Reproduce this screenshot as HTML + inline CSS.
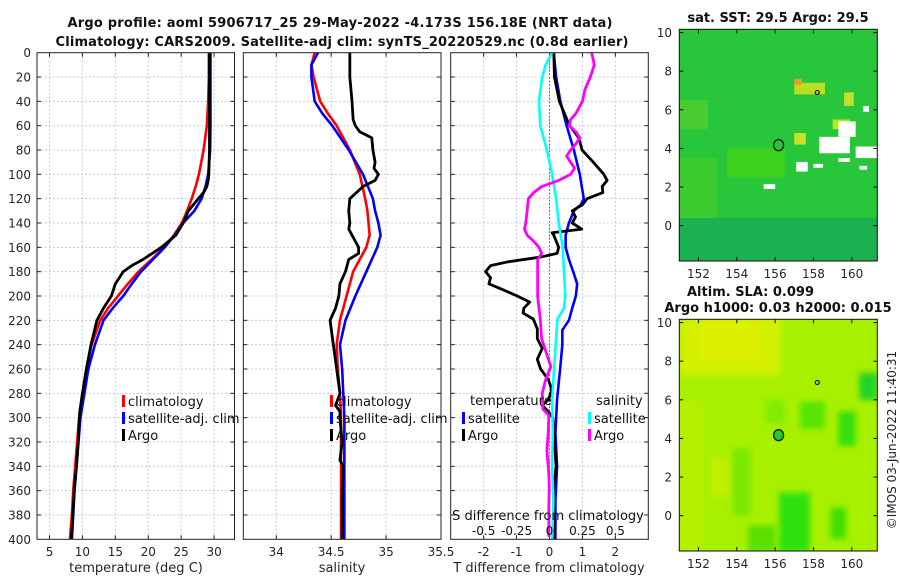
<!DOCTYPE html>
<html><head><meta charset="utf-8"><style>
html,body{margin:0;padding:0;background:#fff;}
svg{display:block;font-family:"DejaVu Sans","Liberation Sans",sans-serif;}
</style></head><body>
<svg id="chart" width="900" height="580" viewBox="0 0 900 580" xmlns="http://www.w3.org/2000/svg">
<rect width="900" height="580" fill="#fff"/>
<text x="340" y="27" text-anchor="middle" font-size="13" font-weight="bold" fill="#111" textLength="545">Argo profile: aoml 5906717_25 29-May-2022 -4.173S 156.18E (NRT data)</text>
<text x="342" y="46" text-anchor="middle" font-size="13" font-weight="bold" fill="#111" textLength="573">Climatology: CARS2009. Satellite-adj clim: synTS_20220529.nc (0.8d earlier)</text>
<text x="778" y="22" text-anchor="middle" font-size="13" font-weight="bold" fill="#111">sat. SST: 29.5 Argo: 29.5</text>
<text x="687" y="296" font-size="13" font-weight="bold" fill="#111">Altim. SLA: 0.099</text>
<text x="778" y="312" text-anchor="middle" font-size="13" font-weight="bold" fill="#111">Argo h1000: 0.03 h2000: 0.015</text>
<text transform="translate(896,440) rotate(-90)" text-anchor="middle" font-size="12" fill="#222">©IMOS 03-Jun-2022 11:40:31</text>
<g id="plots"></g>
</svg>
<script>
// ---- data ----
const depthTicks = [0,20,40,60,80,100,120,140,160,180,200,220,240,260,280,300,320,340,360,380,400];
const tempTicks = [5,10,15,20,25,30];
const salTicks = [34,34.5,35,35.5];
const salTickLabels = ["34","34.5","35","35.5"];
const tdiffTicks = [-2,-1,0,1,2];
const sdiffTicks = [-0.5,-0.25,0,0.25,0.5];
const sdiffTickLabels = ["-0.5","-0.25","0","0.25","0.5"];

const depthsT = [0,20,40,60,80,100,110,120,130,140,150,160,170,180,190,200,210,220,240,260,280,300,320,340,360,380,400];
const tempClim = [29.2,29.2,29.1,28.9,28.4,27.7,27.2,26.6,25.9,25.1,23.9,22.4,20.5,18.5,16.9,15.4,13.9,12.7,11.4,10.6,10.0,9.5,9.2,8.9,8.6,8.4,8.1];
const tempSat = [29.45,29.45,29.45,29.45,29.4,29.1,28.7,28.1,27.0,25.3,24.0,22.5,20.7,18.9,17.5,16.2,14.6,13.2,11.9,10.9,10.3,9.7,9.4,9.1,8.8,8.6,8.4];
const depthsArgoT = [0,20,40,60,80,100,105,110,115,120,130,140,150,160,170,175,180,190,200,210,220,240,260,280,295,320,340,360,380,400];
const tempArgo = [29.3,29.3,29.3,29.3,29.3,29.2,29.1,28.9,28.4,27.6,26.1,25.3,24.2,22.0,19.2,17.5,16.2,15.0,14.4,13.2,12.2,11.3,10.6,10.0,9.6,9.35,9.1,8.75,8.55,8.3];

const depthsS = [0,10,20,40,50,60,80,100,120,130,140,150,160,170,180,200,220,240,260,280,300,320,340,360,380,400];
const salClim = [34.35,34.32,34.34,34.40,34.47,34.55,34.67,34.76,34.81,34.83,34.84,34.85,34.82,34.76,34.70,34.64,34.58,34.55,34.56,34.58,34.59,34.59,34.59,34.59,34.59,34.59];
const salSat = [34.38,34.32,34.32,34.35,34.42,34.51,34.66,34.79,34.88,34.90,34.93,34.95,34.92,34.87,34.82,34.72,34.63,34.58,34.60,34.61,34.62,34.62,34.62,34.62,34.62,34.62];
const depthsArgoS = [0,20,40,55,60,65,70,80,90,95,100,105,110,120,130,140,145,150,160,165,170,180,190,200,210,220,240,260,280,290,295,300,320,335,340,360,380,400];
const salArgo = [34.67,34.67,34.69,34.70,34.72,34.76,34.87,34.88,34.90,34.89,34.93,34.90,34.79,34.67,34.66,34.67,34.66,34.69,34.75,34.75,34.66,34.63,34.58,34.57,34.54,34.49,34.52,34.55,34.58,34.54,34.58,34.58,34.60,34.58,34.61,34.60,34.60,34.60];

const depthsDTSat = [0,20,40,60,80,100,120,125,130,140,150,160,170,180,190,200,210,220,228,240,258,285,313,340,368,400];
const dTSat = [0.13,0.2,0.33,0.52,0.74,0.92,1.04,0.95,0.74,0.59,0.49,0.49,0.59,0.72,0.84,0.8,0.69,0.59,0.39,0.39,0.33,0.23,0.18,0.23,0.18,0.18];
const depthsDTArgo = [0,20,40,59,70,80,90,100,105,110,115,120,125,130,135,140,145,148,150,160,165,168,172,175,180,185,190,195,200,205,210,214,219,227,235,243,252,260,269,277,285,290,294,300,320,340,360,380,400];
const dTArgo = [0.13,0.15,0.3,0.59,0.89,0.99,1.33,1.65,1.75,1.6,1.62,1.14,1.0,0.69,0.79,0.69,0.98,0.08,0.13,0.28,0.23,-0.27,-1.28,-1.79,-1.94,-1.79,-1.84,-1.4,-0.98,-0.6,-0.78,-0.8,-0.49,-0.37,-0.37,-0.22,-0.37,-0.27,-0.03,0.07,-0.03,-0.22,-0.07,0.1,0.15,0.2,0.12,0.15,0.12];
const depthsDSSat = [0,10,20,40,60,80,100,120,140,160,180,200,210,219,243,285,313,340,368,400];
const dSSat = [0.02,-0.03,-0.055,-0.08,-0.07,-0.02,0.02,0.05,0.07,0.1,0.11,0.12,0.11,0.06,0.045,0.02,0.025,0.02,0.03,0.02];
const depthsDSArgo = [0,10,20,30,40,50,55,60,65,70,75,80,85,90,95,100,105,110,115,120,130,140,145,150,155,160,165,170,180,200,219,235,258,269,280,293,298,313,327,346,357,373,398];
const dSArgo = [0.32,0.34,0.31,0.27,0.25,0.2,0.16,0.15,0.2,0.23,0.2,0.16,0.13,0.16,0.19,0.16,0.07,-0.06,-0.12,-0.16,-0.17,-0.18,-0.19,-0.17,-0.12,-0.08,-0.06,-0.09,-0.09,-0.09,-0.07,-0.06,0.01,-0.03,-0.055,-0.05,-0.005,-0.01,-0.02,-0.005,-0.002,-0.005,-0.005];

const lonTicks = [152,154,156,158,160];
const latTicks = [0,2,4,6,8,10];
const argoLon = [156.18];
const argoLat = [4.17];

// ---- helpers ----
const NS = "http://www.w3.org/2000/svg";
const root = document.getElementById('plots');
function mk(tag, attrs, parent){const e=document.createElementNS(NS,tag);for(const k in attrs)e.setAttribute(k,attrs[k]);(parent||root).appendChild(e);return e;}
const Y0=52.7, Y1=539.3;
function yD(d){return Y0+(d/400)*(Y1-Y0);}
function lin(d0,d1,r0,r1){return v=>r0+(v-d0)/(d1-d0)*(r1-r0);}
const xT = lin(3.1,33.1,37,234.5);
const xS = lin(33.7,35.5,243.3,441);
const xDT = lin(-3,3,450.7,648.3);
const xDS = lin(-0.75,0.75,450.7,648.3);
const panels = [{x0:37,x1:234.5,xs:xT,ticks:tempTicks,labels:tempTicks.map(String),name:'temperature'},
                {x0:243.3,x1:441,xs:xS,ticks:salTicks,labels:salTickLabels,name:'salinity'},
                {x0:450.7,x1:648.3,xs:xDT,ticks:tdiffTicks,labels:tdiffTicks.map(String),name:'difference'}];

panels.forEach((p,i)=>{
  const g = mk('g',{});
  
  
  depthTicks.forEach(d=>{
    if(d===0||d===400) return;
    const l = mk('line',{x1:p.x0,x2:p.x1,y1:yD(d),y2:yD(d),stroke:'#c4c9e6','stroke-width':1,'stroke-dasharray':'2,2'},g);
    
    
    const t1 = mk('line',{x1:p.x0,x2:p.x0+4,y1:yD(d),y2:yD(d),stroke:'#222'},g);
    
    
    const t2 = mk('line',{x1:p.x1-4,x2:p.x1,y1:yD(d),y2:yD(d),stroke:'#222'},g);
    
    
  });
  p.ticks.forEach((v,k)=>{
    const x=p.xs(v);
    if(x>p.x0+1 && x<p.x1-1){
      const l = mk('line',{x1:x,x2:x,y1:Y0,y2:Y1,stroke:'#c4c9e6','stroke-width':1,'stroke-dasharray':'2,2'},g);
      
      
      const tb = mk('line',{x1:x,x2:x,y1:Y1-4,y2:Y1,stroke:'#222'},g);
      
      
      const tt = mk('line',{x1:x,x2:x,y1:Y0,y2:Y0+4,stroke:'#222'},g);
      
      
    }
    const lab = mk('text',{x:x,y:556,'text-anchor':'middle','font-size':12,fill:'#262626'},g);
    lab.textContent = p.labels[k];
    
    
  });
});
depthTicks.forEach(d=>{
  const t = mk('text',{x:31,y:yD(d)+4.5,'text-anchor':'end','font-size':12,fill:'#262626'});
  t.textContent = d;
  
  
});
const zl = mk('line',{x1:xDT(0),x2:xDT(0),y1:Y0,y2:Y1,stroke:'#556b2f','stroke-width':1,'stroke-dasharray':'1.5,2'});



function series(xs, vals, depths, color, w){
  const pts = vals.map((v,i)=>xs(v).toFixed(2)+','+yD(depths[i]).toFixed(2)).join(' ');
  return mk('polyline',{points:pts,fill:'none',stroke:color,'stroke-width':w,'stroke-linejoin':'round'});
}
let s;
s = series(xT,tempClim,depthsT,'#ff0000',2.6);


s = series(xT,tempSat,depthsT,'#0000ff',2.6);


s = series(xT,tempArgo,depthsArgoT,'#000000',2.8);


s = series(xS,salClim,depthsS,'#ff0000',2.6);


s = series(xS,salSat,depthsS,'#0000ff',2.6);


s = series(xS,salArgo,depthsArgoS,'#000000',2.8);


s = series(xDT,dTSat,depthsDTSat,'#0000ff',2.6);


s = series(xDT,dTArgo,depthsDTArgo,'#000000',2.8);


s = series(xDS,dSSat,depthsDSSat,'#00ffff',2.6);


s = series(xDS,dSArgo,depthsDSArgo,'#ff00ff',2.8);



panels.forEach(p=>{
  const r = mk('rect',{x:p.x0,y:Y0,width:p.x1-p.x0,height:Y1-Y0,fill:'none',stroke:'#222','stroke-width':1});
  
  
});

function legEntry(x,y,color,label,name){
  const b = mk('rect',{x:x,y:y-10,width:3,height:12,fill:color});
  
  
  const t = mk('text',{x:x+6,y:y+1,'font-size':13,fill:'#111'});
  t.textContent = label;
  
  
}
legEntry(122,405,'#ff0000','climatology','p1-climatology');
legEntry(122,422,'#0000ff','satellite-adj. clim','p1-satellite');
legEntry(122,439,'#000000','Argo','p1-argo');
legEntry(330,405,'#ff0000','climatology','p2-climatology');
legEntry(330,422,'#0000ff','satellite-adj. clim','p2-satellite');
legEntry(330,439,'#000000','Argo','p2-argo');
let lt = mk('text',{x:470,y:405,'font-size':13,fill:'#111'});
lt.textContent='temperature';


lt = mk('text',{x:596,y:405,'font-size':13,fill:'#111'});
lt.textContent='salinity';


legEntry(462,422,'#0000ff','satellite','p3-tsat');
legEntry(462,439,'#000000','Argo','p3-targo');
legEntry(588,422,'#00ffff','satellite','p3-ssat');
legEntry(588,439,'#ff00ff','Argo','p3-sargo');

lt = mk('text',{x:548,y:520,'text-anchor':'middle','font-size':13,fill:'#111'});
lt.textContent='S difference from climatology';


sdiffTicks.forEach((v,k)=>{
  const t = mk('text',{x:xDS(v),y:535,'text-anchor':'middle','font-size':12,fill:'#111'});
  t.textContent = sdiffTickLabels[k];
  
  
});
[[136,'temperature (deg C)','temperature-axis-title'],[342,'salinity','salinity-axis-title'],[549,'T difference from climatology','t-diff-axis-title']].forEach(a=>{
  const t = mk('text',{x:a[0],y:572,'text-anchor':'middle','font-size':13,fill:'#262626'});
  t.textContent=a[1];
  
  
});

// ---- maps ----
const LON0=151.0, LON1=161.33, LAT0=-1.83, LAT1=10.17;
function mapFns(top,bottom){return {x:lin(LON0,LON1,679.3,877.3),y:lin(LAT0,LAT1,bottom,top),top:top,bottom:bottom};}
const m1 = mapFns(29.3,261), m2 = mapFns(319.3,551);
const defs = mk('defs',{});
const f = mk('filter',{id:'soft',x:'-5%',y:'-5%',width:'110%',height:'110%'},defs);
mk('feGaussianBlur',{stdDeviation:3},f);
[['c1',m1],['c2',m2]].forEach(a=>{const c=mk('clipPath',{id:a[0]},defs);mk('rect',{x:679.3,y:a[1].top,width:198,height:a[1].bottom-a[1].top},c);});

const sstPatches = [[151,161.4,-1.9,0.4,'#1bb050'],[151,153,0.4,3.5,'#3ccc30'],[153.5,156.5,2.5,4,'#3cd21c'],[151,152.5,5,6.5,'#48cc30'],
 [157,157.6,4.2,4.8,'#c8e028'],[157,158.6,6.8,7.4,'#b8e020'],[157,157.4,7.3,7.6,'#f09a20'],[159.6,160.1,6.2,6.9,'#c0e030'],[159.0,159.9,5.0,5.5,'#b8e820'],
 [158.3,159.9,3.75,4.6,'#ffffff'],[159.3,160.2,4.6,5.4,'#ffffff'],[160.2,161.33,3.5,4.1,'#ffffff'],[157.1,157.7,2.8,3.3,'#ffffff'],[155.4,156.0,1.9,2.15,'#ffffff'],[158.0,158.5,3.0,3.2,'#ffffff'],[159.3,159.9,3.3,3.5,'#ffffff'],[160.4,160.8,2.9,3.1,'#ffffff'],[160.6,160.9,5.9,6.2,'#ffffff']];
const slaPatches = [[151,156.3,7.3,10.2,'#d2f000'],[152,155.2,8,10.2,'#dcf000'],[151,152.2,-1.9,6,'#b4f000'],[156.2,157.8,-1.9,1.2,'#2ee210'],[159.3,160.2,3.6,5.4,'#38e010'],[160.4,161.33,6,7.4,'#22d428'],
 [157.3,158.6,4.5,5.9,'#58e400'],[153.8,154.7,0,3.5,'#7ae800'],[154.6,156,-1.9,-0.5,'#5ae000'],[158.9,159.7,-1.2,0.4,'#40e000'],[155.5,156.5,4.8,6,'#80ec00'],[152.6,153.6,1,3,'#c0f000']];
function drawMap(m,base,patches,clip,blur,name){
  const g = mk('g',{'clip-path':'url(#'+clip+')'});
  
  
  const b = mk('rect',{x:679.3,y:m.top,width:198,height:m.bottom-m.top,fill:base},g);
  
  
  const pg = mk('g',blur?{filter:'url(#soft)'}:{},g);
  patches.forEach(p=>{
    const r = mk('rect',{x:m.x(p[0]),y:m.y(p[3]),width:m.x(p[1])-m.x(p[0]),height:m.y(p[2])-m.y(p[3]),fill:p[4]},pg);
    
    
  });
  const fr = mk('rect',{x:679.3,y:m.top,width:198,height:m.bottom-m.top,fill:'none',stroke:'#111','stroke-width':1});
  
  
  lonTicks.forEach(v=>{
    const x=m.x(v);
    const t1 = mk('line',{x1:x,x2:x,y1:m.bottom-4,y2:m.bottom,stroke:'#111'});
    
    
    const t2 = mk('line',{x1:x,x2:x,y1:m.top,y2:m.top+4,stroke:'#111'});
    
    
    const l = mk('text',{x:x,y:m.bottom+17,'text-anchor':'middle','font-size':12,fill:'#262626'});
    l.textContent=v;
    
    
  });
  latTicks.forEach(v=>{
    const y=m.y(v);
    const t1 = mk('line',{x1:679.3,x2:683.3,y1:y,y2:y,stroke:'#111'});
    
    
    const t2 = mk('line',{x1:873.3,x2:877.3,y1:y,y2:y,stroke:'#111'});
    
    
    const l = mk('text',{x:672,y:y+4.5,'text-anchor':'end','font-size':12,fill:'#262626'});
    l.textContent=v;
    
    
  });
}
drawMap(m1,'#28c63a',sstPatches,'c1',false,'sst-map');
drawMap(m2,'#a6f000',slaPatches,'c2',true,'sla-map');
const c1 = mk('ellipse',{cx:m1.x(argoLon[0]),cy:m1.y(argoLat[0]),rx:5,ry:5.5,fill:'none',stroke:'#111','stroke-width':1.2});


const c2 = mk('ellipse',{cx:m2.x(argoLon[0]),cy:m2.y(argoLat[0]),rx:5,ry:5.5,fill:'#22cc22',stroke:'#111','stroke-width':1.2});


[m1,m2].forEach(m=>{
  const o = mk('circle',{cx:m.x(158.2),cy:m.y(6.9),r:2,fill:'none',stroke:'#111','stroke-width':1.2});
  
  
});
</script>
</body></html>
